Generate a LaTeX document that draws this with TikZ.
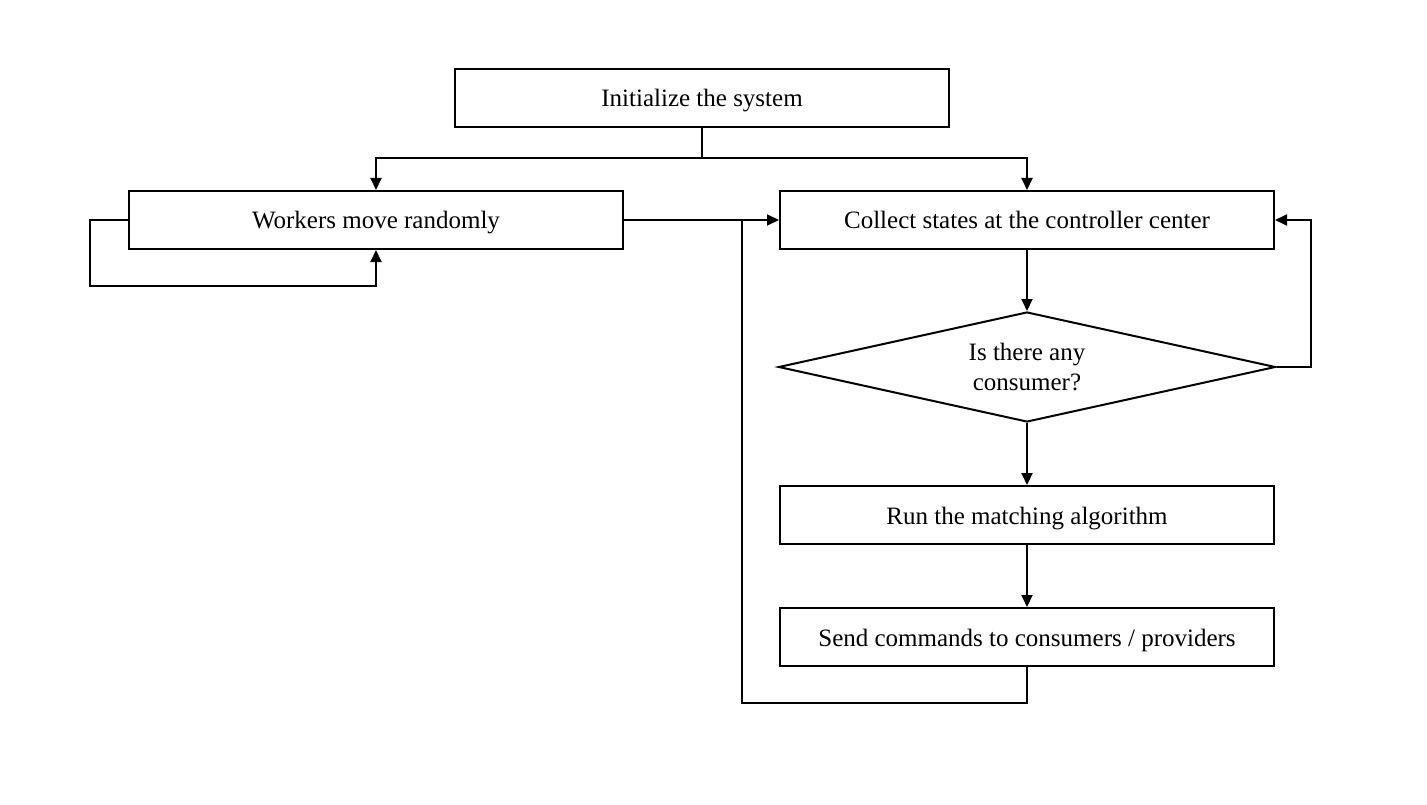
\documentclass[tikz,border=0pt]{standalone}
\usepackage{fontspec}
\setmainfont{Liberation Serif}
\usetikzlibrary{arrows.meta,shapes.geometric}
\begin{document}
\begin{tikzpicture}[x=1pt,y=-1pt,
						every node/.style={font=\fontsize{25}{30}\selectfont}]
						\tikzstyle{stepbox}=[draw,line width=2pt,minimum width=494pt,minimum height=58pt,inner sep=0pt,text height=20pt,text depth=2pt];
						\tikzstyle{query}=[draw,line width=2pt,diamond,shape aspect=4.5,minimum width=497pt,minimum height=110pt,inner sep=0pt,align=center];
						\tikzstyle{flow}=[line width=2pt,-{Triangle[length=12pt,width=11pt]}];
						\tikzstyle{line}=[line width=2pt];
						\useasboundingbox (0,0) rectangle (1427,805);
						\node[stepbox](init) at (702,98) {Initialize the system};
						\node[stepbox](workers) at (376,220) {Workers move randomly};
						\node[stepbox](collect) at (1027,220) {Collect states at the controller center};
						\node[query](check) at (1027,367) {Is there any\\consumer?};
						\node[stepbox](match) at (1027,515) {Run the matching algorithm};
						\node[stepbox](send) at (1027,637) {Send commands to consumers / providers};
						\coordinate(split) at (702,158);
						\coordinate(wloop) at (376,286);
						\coordinate(join) at (742,220);
						\coordinate(back) at (1027,703);
						\draw[line] (init.south) -- (split);
						\draw[flow] (split) -| (workers.north);
						\draw[flow] (split) -| (collect.north);
						\draw[flow] (workers.west) -- ++(-38,0) |- (wloop) -- (workers.south);
						\draw[flow] (workers.east) -- (collect.west);
						\draw[flow] (collect.south) -- (check.north);
						\draw[flow] (check.east) -- ++(34,0) |- (collect.east);
						\draw[flow] (check.south) -- (match.north);
						\draw[flow] (match.south) -- (send.north);
						\draw[line] (send.south) -- (back) -| (join);
					\end{tikzpicture}
\end{document}
